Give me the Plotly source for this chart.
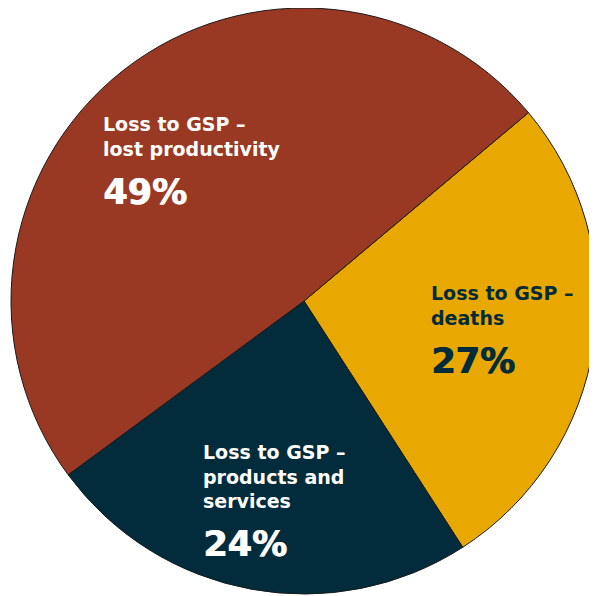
import plotly.graph_objects as go

labels = ["Loss to GSP – deaths", "Loss to GSP – products and services", "Loss to GSP – lost productivity"]
label_lines = [["Loss to GSP –", "deaths"], ["Loss to GSP –", "products and", "services"], ["Loss to GSP –", "lost productivity"]]
values = [27, 24, 49]
colors = ["#E9A800", "#022B3B", "#9A3923"]
text_colors = ["#022B3B", "#FFFFFF", "#FFFFFF"]

W, H = 597, 596
cx, cy, r = 296, 293, 293  # pie centre/radius in figure pixels

fig = go.Figure(go.Pie(
    labels=labels, values=values, sort=False, direction="clockwise", rotation=50,
    marker=dict(colors=colors, line=dict(color="#1a1a1a", width=1)),
    textinfo="none", hoverinfo="label+percent", showlegend=False,
    domain=dict(x=[(cx - r) / W, (cx + r) / W], y=[(H - cy - r) / H, min(1, (H - cy + r) / H)]),
))

# label positions in figure pixels (left x, top of label block, top of percentage)
pos = [(421, 272, 331), (193, 431, 514), (93, 103, 162)]
font_fam = "'DejaVu Sans', sans-serif"
for lines, v, tc, (px, ly, py) in zip(label_lines, values, text_colors, pos):
    fig.add_annotation(x=px / W, y=1 - ly / H, xref="paper", yref="paper",
                       xanchor="left", yanchor="top", align="left", showarrow=False,
                       text="<br>".join(lines),
                       font=dict(family=font_fam, size=19, color=tc, weight=700))
    fig.add_annotation(x=px / W, y=1 - py / H, xref="paper", yref="paper",
                       xanchor="left", yanchor="top", align="left", showarrow=False,
                       text=f"{v}%",
                       font=dict(family=font_fam, size=35, color=tc, weight=700,
                                 shadow=f"1px 0 0 {tc}"))

fig.update_layout(width=W, height=H, margin=dict(l=0, r=0, t=0, b=0),
                  paper_bgcolor="white", plot_bgcolor="white")
fig.write_html("out.html")
